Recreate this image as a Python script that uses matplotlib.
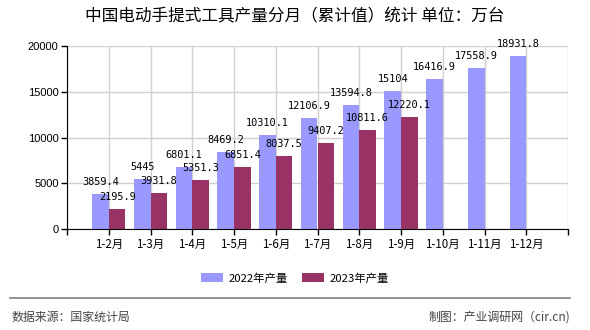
import matplotlib
matplotlib.use("Agg")
import matplotlib.pyplot as plt
from matplotlib.patches import Patch
from matplotlib.lines import Line2D

plt.rcParams['font.family'] = ['Noto Sans CJK SC', 'DejaVu Sans']

categories = ["1-2月", "1-3月", "1-4月", "1-5月", "1-6月", "1-7月",
              "1-8月", "1-9月", "1-10月", "1-11月", "1-12月"]
values_2022 = [3859.4, 5445, 6801.1, 8469.2, 10310.1, 12106.9,
               13594.8, 15104, 16416.9, 17558.9, 18931.8]
values_2023 = [2195.9, 3931.8, 5351.3, 6851.4, 8037.5, 9407.2,
               10811.6, 12220.1]
series_names = ["2022年产量", "2023年产量"]
y_ticks = [0, 5000, 10000, 15000, 20000]
title = "中国电动手提式工具产量分月（累计值）统计 单位：万台"
source = "数据来源：国家统计局"
credit = "制图：产业调研网（cir.cn)"

c22 = "#9999FF"
c23 = "#993366"

fig = plt.figure(figsize=(5.9, 3.3), dpi=100)
ax = fig.add_axes([67/590, 1-229.3/330, (568-67)/590, (229.3-46)/330])

x22 = [i + 1 - 0.2 for i in range(len(values_2022))]
x23 = [i + 1 + 0.2 for i in range(len(values_2023))]
ax.bar(x22, values_2022, width=0.4, color=c22, zorder=2)
ax.bar(x23, values_2023, width=0.4, color=c23, zorder=2)

lbl_font = dict(family='DejaVu Sans Mono', fontsize=7.4, color='black')
for x, v in zip(x22, values_2022):
    ax.annotate(format(v, '.10g'), (x, v), xytext=(0, 12), textcoords='offset pixels',
                ha='center', va='center', zorder=5, **lbl_font)
for x, v in zip(x23, values_2023):
    ax.annotate(format(v, '.10g'), (x, v), xytext=(0, 12), textcoords='offset pixels',
                ha='center', va='center', zorder=5, **lbl_font)

ax.set_xlim(0, len(categories) + 1)
ax.set_ylim(0, 20000)
ax.set_yticks(y_ticks)
ax.set_yticklabels([str(t) for t in y_ticks], fontsize=8, family='Liberation Sans')
ax.set_xticks(range(0, len(categories) + 2))
ax.set_xticklabels([""] + categories + [""], fontsize=8.3)
ax.grid(True, color='#d0d0d0', linewidth=1, zorder=0)
ax.set_axisbelow(True)
for s in ['top', 'right']:
    ax.spines[s].set_visible(False)
ax.spines['left'].set_color('black')
ax.spines['bottom'].set_color('black')
ax.tick_params(axis='both', direction='out', length=4, width=1, color='black', pad=2)

fig.text(0.5, 1-17/330, title, ha='center', va='center', fontsize=12)

handles = [Patch(facecolor=c22), Patch(facecolor=c23)]
fig.legend(handles, series_names, loc='center', bbox_to_anchor=(0.5, 1-278/330),
           ncol=2, frameon=False, fontsize=8.2, handlelength=1.9, handleheight=0.8,
           columnspacing=1.3, handletextpad=0.5)

fig.add_artist(Line2D([10/590, 570/590], [1-298/330, 1-298/330], color='#808080', linewidth=1.2))
fig.text(12/590, 1-317/330, source, ha='left', va='center', fontsize=8.6, color='#444444')
fig.text(570/590, 1-317/330, credit, ha='right', va='center', fontsize=8.6, color='#444444')

fig.savefig("out.png", dpi=100)
